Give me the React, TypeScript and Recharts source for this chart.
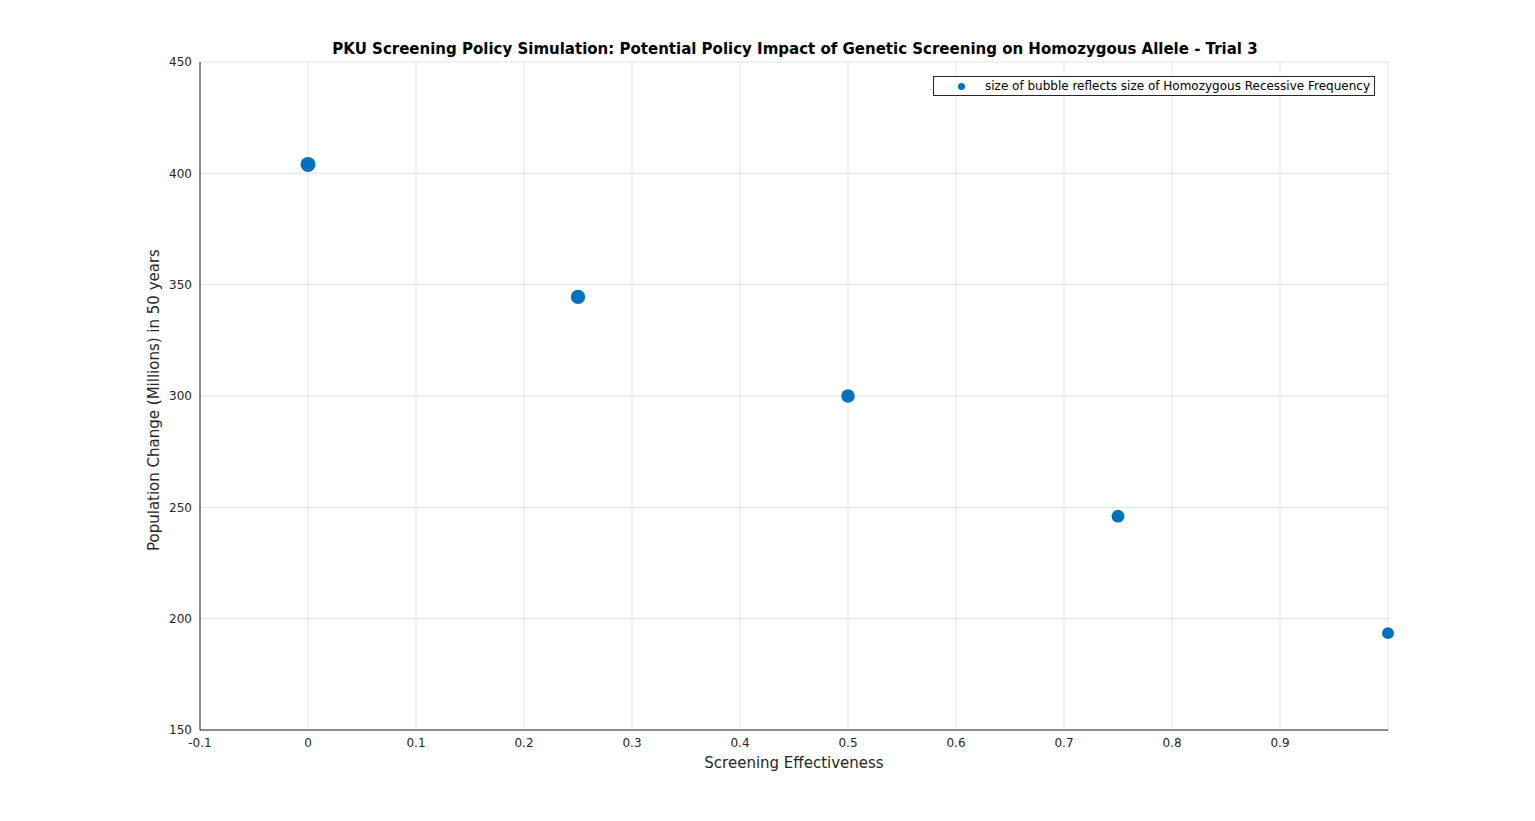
import { ScatterChart, Scatter, XAxis, YAxis, ZAxis, CartesianGrid } from 'recharts';

const effectiveness = [0, 0.25, 0.5, 0.75, 1.0];
const population = [404, 344.5, 300, 246, 193.5];
const homozygousFreq = [5, 4, 3, 2, 1];
const xTicks = [-0.1, 0, 0.1, 0.2, 0.3, 0.4, 0.5, 0.6, 0.7, 0.8, 0.9];
const yTicks = [150, 200, 250, 300, 350, 400, 450];

const data = effectiveness.map((x, i) => ({ x, y: population[i], z: homozygousFreq[i] }));

const tickStyle = { fill: '#262626', fontSize: 12, fontFamily: 'DejaVu Sans' };

export default function App() {
  return (
    <div style={{ position: 'relative', width: 1519, height: 813, fontFamily: 'DejaVu Sans' }}>
      <div style={{ position: 'absolute', left: 0, width: 1574, top: 32, textAlign: 'center', fontSize: 15, fontWeight: 'bold', color: '#000' }}>
        PKU Screening Policy Simulation: Potential Policy Impact of Genetic Screening on Homozygous Allele - Trial 3
      </div>
      <ScatterChart width={1519} height={813} margin={{ top: 54, right: 139, bottom: 61, left: 132 }}>
        <CartesianGrid stroke="#e3e3e3" />
        <XAxis type="number" dataKey="x" domain={[-0.1, 1.0]} ticks={xTicks} interval={0}
          tick={tickStyle} tickLine={false} stroke="#262626" height={30}
          label={{ value: 'Screening Effectiveness', position: 'insideBottom', offset: -8, fill: '#262626', fontSize: 15 }} />
        <YAxis type="number" dataKey="y" domain={[150, 450]} ticks={yTicks} interval={0}
          tick={tickStyle} tickLine={false} stroke="#262626" width={60}
          label={{ value: 'Population Change (Millions) in 50 years', angle: -90, position: 'insideLeft', offset: 14, dy: 155, fill: '#262626', fontSize: 15 }} />
        <ZAxis type="number" dataKey="z" range={[95, 177]} />
        <Scatter data={data} fill="#0072BD" isAnimationActive={false} />
      </ScatterChart>
      <div style={{ position: 'absolute', left: 925, top: 68, width: 440, height: 18, border: '1px solid #262626', background: '#fff', fontSize: 12, color: '#000', display: 'flex', alignItems: 'center', whiteSpace: 'nowrap' }}>
        <span style={{ display: 'inline-block', width: 7, height: 7, borderRadius: '50%', background: '#0072BD', marginLeft: 24, marginRight: 20 }} />
        size of bubble reflects size of Homozygous Recessive Frequency
      </div>
    </div>
  );
}
